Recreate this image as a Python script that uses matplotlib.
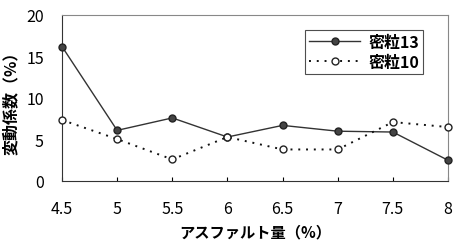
import numpy as np
import matplotlib.pyplot as plt

plt.rcParams['font.family'] = ['Noto Sans CJK JP', 'DejaVu Sans']

asphalt = [4.5, 5, 5.5, 6, 6.5, 7, 7.5, 8]
mitsu13 = [16.2, 6.1, 7.6, 5.3, 6.7, 6.0, 5.9, 2.5]
mitsu10 = [7.35, 5.05, 2.6, 5.3, 3.8, 3.8, 7.1, 6.5]
xticks = [4.5, 5, 5.5, 6, 6.5, 7, 7.5, 8]
xticklabels = ['4.5', '5', '5.5', '6', '6.5', '7', '7.5', '8']
yticks = [0, 5, 10, 15, 20]

fig = plt.figure(figsize=(4.62, 2.51), dpi=100)
ax = fig.add_axes([62/462, 1-182/251, 386/462, 166/251])

ax.plot(asphalt, mitsu13, '-', color='#333333', lw=1.0, marker='o', ms=5,
        mfc='#444444', mec='#222222', label='密粒13', clip_on=False, zorder=3)
ax.plot(asphalt, mitsu10, color='#111111', lw=1.4, ls=(0, (1, 3)), marker='o', ms=5,
        mfc='white', mec='#222222', label='密粒10', clip_on=False, zorder=3)

ax.set_xlim(4.5, 8)
ax.set_ylim(0, 20)
ax.set_xticks(xticks)
ax.set_xticklabels(xticklabels)
ax.set_yticks(yticks)
ax.tick_params(axis='x', direction='in', length=3, pad=14, labelsize=11.5)
ax.tick_params(axis='y', length=0, pad=13, labelsize=11.5)
for s in ['top', 'right']:
    ax.spines[s].set_color('#888888')
for s in ['left', 'bottom']:
    ax.spines[s].set_color('#333333')

ax.set_xlabel('アスファルト量（%）', fontsize=11, labelpad=4, fontweight='bold')
ax.set_ylabel('変動係数（%）', fontsize=11.5, labelpad=5, fontweight='bold')

leg = ax.legend(loc='upper right', bbox_to_anchor=(0.935, 0.91),
                prop={'size': 11.5, 'weight': 'bold'},
                frameon=True, fancybox=False, edgecolor='#222222',
                handlelength=3.2, borderpad=0.25, labelspacing=0.25,
                handletextpad=0.5, borderaxespad=0)
leg.get_frame().set_linewidth(0.8)

fig.savefig('out.png', dpi=100)
